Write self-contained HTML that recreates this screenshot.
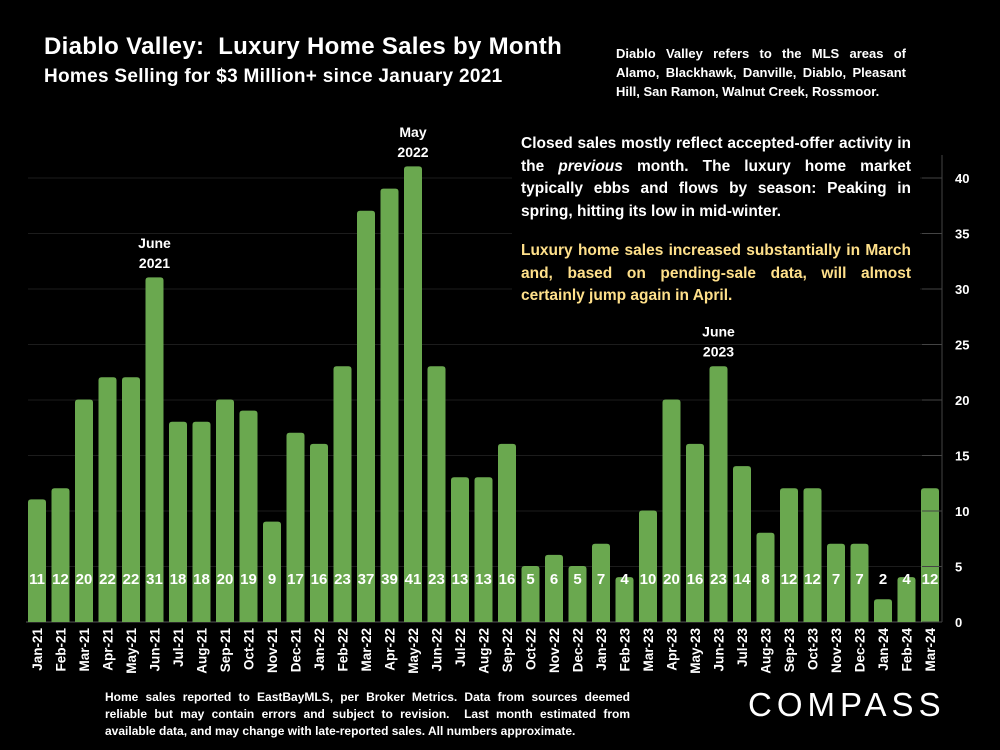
<!DOCTYPE html>
<html><head><meta charset="utf-8"><style>
body{margin:0;background:#000;width:1000px;height:750px;overflow:hidden;font-family:"Liberation Sans",sans-serif;color:#fff}
.t{position:absolute;font-weight:bold;white-space:nowrap}
.t span{display:block;text-align:justify;text-align-last:justify}
.t span.l{text-align-last:left}
#chart{position:absolute;left:0;top:0}
.box{position:absolute;left:512px;top:125px;width:408px;height:185px;background:#000}
</style></head><body>
<svg id="chart" width="1000" height="750"></svg>
<div class="box"></div>
<div class="t" style="left:44px;top:33px;font-size:24px;letter-spacing:0.3px">Diablo Valley:&nbsp; Luxury Home Sales by Month</div>
<div class="t" style="left:44px;top:66px;font-size:19px;letter-spacing:0.3px">Homes Selling for $3 Million+ since January 2021</div>
<div class="t" style="left:616px;top:44px;width:290px;font-size:13px;line-height:19px"><span>Diablo Valley refers to the MLS areas of</span><span>Alamo, Blackhawk, Danville, Diablo, Pleasant</span><span class="l">Hill, San Ramon, Walnut Creek, Rossmoor.</span></div>
<div class="t" style="left:521px;top:133px;width:390px;font-size:15.5px;line-height:22.5px"><span>Closed sales mostly reflect accepted-offer activity in</span><span>the <i>previous</i> month. The luxury home market</span><span>typically ebbs and flows by season: Peaking in</span><span class="l">spring, hitting its low in mid-winter.</span></div>
<div class="t" style="left:521px;top:240px;width:390px;font-size:15.5px;line-height:22.5px;color:#ffe08a"><span>Luxury home sales increased substantially in March</span><span>and, based on pending-sale data, will almost</span><span class="l">certainly jump again in April.</span></div>
<div class="t" style="left:105px;top:689px;width:525px;font-size:12px;line-height:17px"><span>Home sales reported to EastBayMLS, per Broker Metrics. Data from sources deemed</span><span>reliable but may contain errors and subject to revision.&nbsp; Last month estimated from</span><span class="l">available data, and may change with late-reported sales. All numbers approximate.</span></div>
<div style="position:absolute;left:748px;top:686px;font-size:33px;letter-spacing:5px;color:#fff">COMPASS</div>
<svg id="axis" width="1000" height="750" style="position:absolute;left:0;top:0"></svg>
<script>
const categories=["Jan-21","Feb-21","Mar-21","Apr-21","May-21","Jun-21","Jul-21","Aug-21","Sep-21","Oct-21","Nov-21","Dec-21","Jan-22","Feb-22","Mar-22","Apr-22","May-22","Jun-22","Jul-22","Aug-22","Sep-22","Oct-22","Nov-22","Dec-22","Jan-23","Feb-23","Mar-23","Apr-23","May-23","Jun-23","Jul-23","Aug-23","Sep-23","Oct-23","Nov-23","Dec-23","Jan-24","Feb-24","Mar-24"];
const sales=[11,12,20,22,22,31,18,18,20,19,9,17,16,23,37,39,41,23,13,13,16,5,6,5,7,4,10,20,16,23,14,8,12,12,7,7,2,4,12];
const yTicks=[0,5,10,15,20,25,30,35,40];
const callouts=[["Jun-21","June","2021"],["May-22","May","2022"],["Jun-23","June","2023"]];
const svg=document.getElementById('chart');const axs=document.getElementById('axis');const NS='http://www.w3.org/2000/svg';
const y=v=>622-v*11.1, x=i=>37+i*23.5;
function mk(t,a,p){const e=document.createElementNS(NS,t);for(const k in a)e.setAttribute(k,a[k]);(p||svg).appendChild(e);return e;}
yTicks.forEach(v=>{
 const g=mk('line',{x1:28,x2:942,y1:y(v),y2:y(v),stroke:'#1c1c1c','stroke-width':1});
 
 
 const tk=mk('line',{x1:922,x2:942,y1:y(v),y2:y(v),stroke:'#444'},axs);
 
 
 const t=mk('text',{x:955,y:y(v)+5,fill:'#fff','font-size':13,'font-weight':'bold'},axs);t.textContent=v;
 
 
});
const ax=mk('line',{x1:942,x2:942,y1:155,y2:622,stroke:'#444'},axs);


const bx=mk('line',{x1:26,x2:942,y1:622,y2:622,stroke:'#555'});


sales.forEach((v,i)=>{
 const cx=x(i),w=18,top=y(v)-0.5,h=622-top;
 const r=Math.min(3,h/2);
 const b=mk('path',{d:`M${cx-w/2},622 V${top+r} Q${cx-w/2},${top} ${cx-w/2+r},${top} H${cx+w/2-r} Q${cx+w/2},${top} ${cx+w/2},${top+r} V622 Z`,fill:'#6aa84f'});
 
 
 const l=mk('text',{x:cx,y:584,fill:'#fff','font-size':15,'font-weight':'bold','text-anchor':'middle'});l.textContent=v;
 
 
 const xl=mk('text',{x:0,y:0,fill:'#fff','font-size':13.5,'font-weight':'bold','text-anchor':'end',transform:`translate(${cx+5},628) rotate(-90)`});xl.textContent=categories[i];
 
 
});
callouts.forEach(c=>{
 const i=categories.indexOf(c[0]),v=sales[i];
 [c[1],c[2]].forEach((s,k)=>{
  const t=mk('text',{x:x(i),y:y(v)-30+k*20,fill:'#fff','font-size':14,'font-weight':'bold','text-anchor':'middle'});t.textContent=s;
  
  
 });
});
</script>
</body></html>
